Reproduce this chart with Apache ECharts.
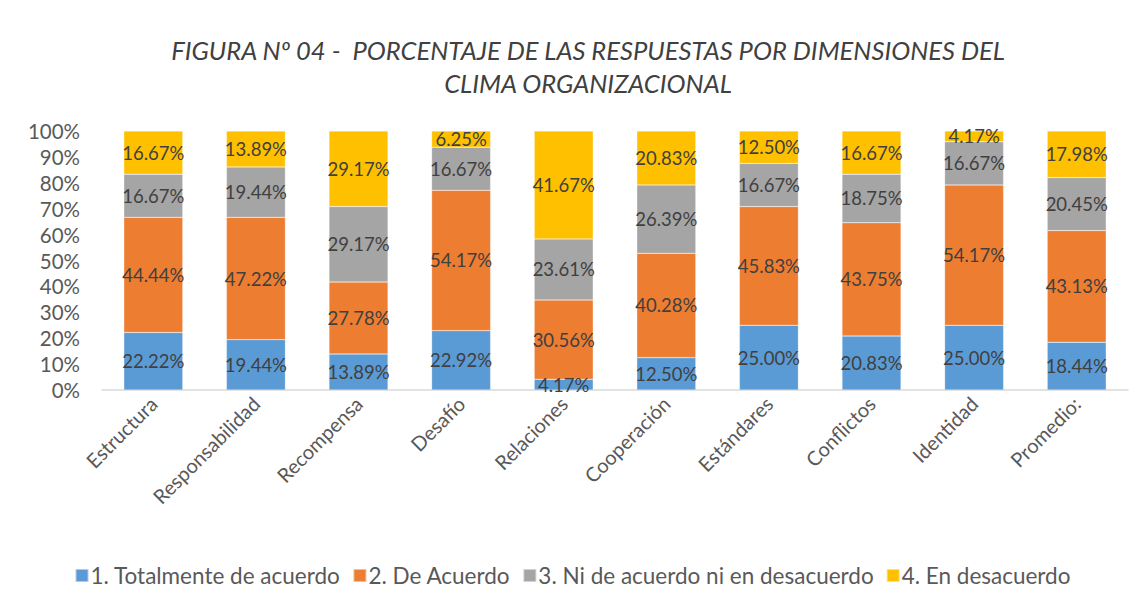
<!DOCTYPE html>
<html>
<head>
<meta charset="utf-8">
<script src="https://cdn.jsdelivr.net/npm/echarts@6/dist/echarts.min.js"></script>
<style>
  html, body { margin: 0; padding: 0; background: #fff; }
  #chart { width: 1145px; height: 612px; }
</style>
</head>
<body>
<div id="chart"></div>
<script>
var categories = ['Estructura', 'Responsabilidad', 'Recompensa', 'Desafío', 'Relaciones', 'Cooperación', 'Estándares', 'Conflictos', 'Identidad', 'Promedio:'];
var seriesNames = ['1. Totalmente de acuerdo', '2. De Acuerdo', '3. Ni de acuerdo ni en desacuerdo', '4. En desacuerdo'];
var totalmente = [22.22, 19.44, 13.89, 22.92, 4.17, 12.50, 25.00, 20.83, 25.00, 18.44];
var deAcuerdo = [44.44, 47.22, 27.78, 54.17, 30.56, 40.28, 45.83, 43.75, 54.17, 43.13];
var niNi = [16.67, 19.44, 29.17, 16.67, 23.61, 26.39, 16.67, 18.75, 16.67, 20.45];
var desacuerdo = [16.67, 13.89, 29.17, 6.25, 41.67, 20.83, 12.50, 16.67, 4.17, 17.98];
var yTicks = [0, 10, 20, 30, 40, 50, 60, 70, 80, 90, 100];

(function() {
  var font = 'Lato, "Liberation Sans", sans-serif';
  var colors = ['#5B9BD5', '#ED7D31', '#A5A5A5', '#FFC000'];
  var values = [totalmente, deAcuerdo, niNi, desacuerdo];

  var chart = echarts.init(document.getElementById('chart'), null, { renderer: 'svg' });
  chart.setOption({
    animation: false,
    textStyle: { fontFamily: font },
    title: {
      text: 'FIGURA Nº 04 -  PORCENTAJE DE LAS RESPUESTAS POR DIMENSIONES DEL\nCLIMA ORGANIZACIONAL',
      left: 583,
      textAlign: 'center',
      top: 28,
      textStyle: { fontStyle: 'italic', fontWeight: 'normal', fontSize: 25.5, color: '#404040', lineHeight: 33, fontFamily: font }
    },
    legend: {
      bottom: 20,
      left: 'center',
      itemWidth: 13,
      itemHeight: 13,
      itemGap: 12,
      icon: 'rect',
      textStyle: { fontSize: 22.5, color: '#595959', fontFamily: font, padding: [0, 0, 0, -3] },
      data: seriesNames
    },
    grid: { left: 102, right: 17, top: 131, bottom: 222 },
    xAxis: {
      type: 'category',
      data: categories,
      axisLine: { lineStyle: { color: '#d9d9d9', width: 1.5 } },
      axisTick: { show: false },
      axisLabel: { rotate: 45, interval: 0, fontSize: 20, color: '#595959', margin: 10 }
    },
    yAxis: {
      type: 'value',
      min: 0,
      max: 100,
      interval: 10,
      axisLine: { show: false },
      axisTick: { show: false },
      splitLine: { show: false },
      axisLabel: {
        fontSize: 20.5, color: '#595959', margin: 22,
        formatter: function(v) { return yTicks.indexOf(v) >= 0 ? v + '%' : ''; }
      }
    },
    series: values.map(function(arr, i) {
      return {
        name: seriesNames[i],
        type: 'bar',
        stack: 'total',
        barWidth: 59,
        data: arr,
        itemStyle: { color: colors[i], borderColor: 'rgba(255,255,255,0.5)', borderWidth: 0.5 },
        label: {
          show: true,
          position: 'inside',
          fontSize: 18.5,
          color: '#404040',
          formatter: function(p) { return p.value.toFixed(2) + '%'; }
        }
      };
    })
  });
})();
</script>
</body>
</html>
